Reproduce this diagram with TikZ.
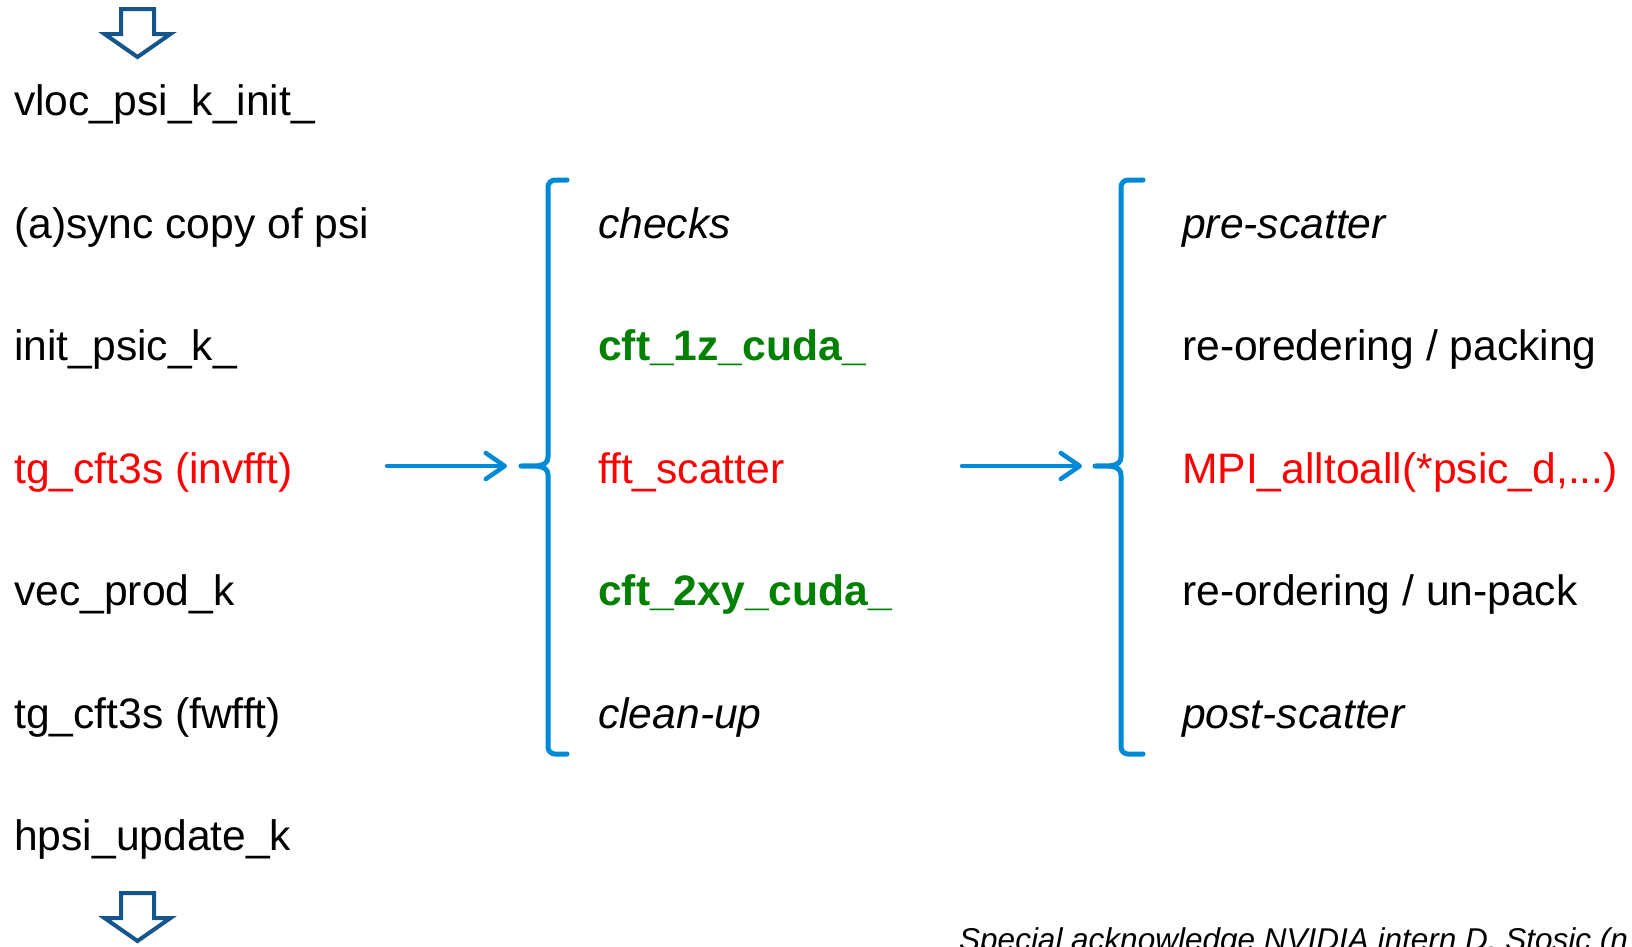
\documentclass[tikz,border=0pt]{standalone}
\usepackage{fontspec}
\setmainfont{Liberation Sans}
\usetikzlibrary{arrows.meta}
\definecolor{bracketblue}{RGB}{0,137,214}
\definecolor{flowblue}{RGB}{20,85,140}
\definecolor{hotred}{RGB}{255,0,0}
\definecolor{gpugreen}{RGB}{0,128,0}
\begin{document}
\begin{tikzpicture}[x=1pt,y=-1pt,
  lbl/.style={anchor=base west,inner sep=0pt,font=\fontsize{42.6}{50}\selectfont},
  hot/.style={text=hotred},
  gpu/.style={text=gpugreen,font=\fontsize{42.6}{50}\selectfont\bfseries},
  phase/.style={font=\fontsize{42.6}{50}\selectfont\itshape},
  flow/.style={draw=flowblue,line width=4pt,fill=white,line join=miter},
  brace/.style={draw=bracketblue,line width=5pt,line cap=round,line join=round},
  link/.style={draw=bracketblue,line width=4.5pt,line cap=round,
    -{Straight Barb[length=19pt,width=26pt,line width=4.5pt,round]}}
]
\useasboundingbox (0,0) rectangle (1632,946);

% entry and exit arrows of the loop body
\draw[flow] (121,9) -- (154,9) -- (154,34) -- (170.5,34) -- (137.5,57) -- (104.5,34) -- (121,34) -- cycle;
\draw[flow] (121,893) -- (154,893) -- (154,918) -- (170.5,918) -- (137.5,941) -- (104.5,918) -- (121,918) -- cycle;

% call sequence
\node[lbl] (l1) at (14,115.5) {vloc\_psi\_k\_init\_};
\node[lbl] (l2) at (14,238) {(a)sync copy of psi};
\node[lbl] (l3) at (14,360.5) {init\_psic\_k\_};
\node[lbl,hot] (l4) at (14,483) {tg\_cft3s (invfft)};
\node[lbl] (l5) at (14,605.5) {vec\_prod\_k};
\node[lbl] (l6) at (14,728) {tg\_cft3s (fwfft)};
\node[lbl] (l7) at (14,850.5) {hpsi\_update\_k};

% inside tg_cft3s
\node[lbl,phase] (m1) at (598,238) {checks};
\node[lbl,gpu] (m2) at (598,360.5) {cft\_1z\_cuda\_};
\node[lbl,hot] (m3) at (598,483) {fft\_scatter};
\node[lbl,gpu] (m4) at (598,605.5) {cft\_2xy\_cuda\_};
\node[lbl,phase] (m5) at (598,728) {clean-up};

% inside fft_scatter
\node[lbl,phase] (r1) at (1182,238) {pre-scatter};
\node[lbl] (r2) at (1182,360.5) {re-oredering / packing};
\node[lbl,hot] (r3) at (1182,483) {MPI\_alltoall(*psic\_d,...)};
\node[lbl] (r4) at (1182,605.5) {re-ordering / un-pack};
\node[lbl,phase] (r5) at (1182,728) {post-scatter};

% braces
\draw[brace] (567,180) -- (555,180) to[out=180,in=90] (548,187) -- (548,457)
  to[out=-90,in=0] (521,466) to[out=0,in=90] (548,475) -- (548,747)
  to[out=-90,in=180] (555,754) -- (567,754);
\draw[brace] (1143,180) -- (1128,180) to[out=180,in=90] (1121,187) -- (1121,457)
  to[out=-90,in=0] (1095,466) to[out=0,in=90] (1121,475) -- (1121,747)
  to[out=-90,in=180] (1128,754) -- (1143,754);

% expansion arrows
\coordinate (a1s) at (387,466);
\coordinate (a1e) at (507,466);
\coordinate (a2s) at (962,466);
\coordinate (a2e) at (1082,466);
\draw[link] (a1s) -- (a1e);
\draw[link] (a2s) -- (a2e);

% credit line
\node[anchor=base west,inner sep=0pt,font=\fontsize{31.5}{36}\selectfont\itshape] (ack) at (959,950)
  {Special acknowledge NVIDIA intern D. Stosic (n};
\end{tikzpicture}
\end{document}
